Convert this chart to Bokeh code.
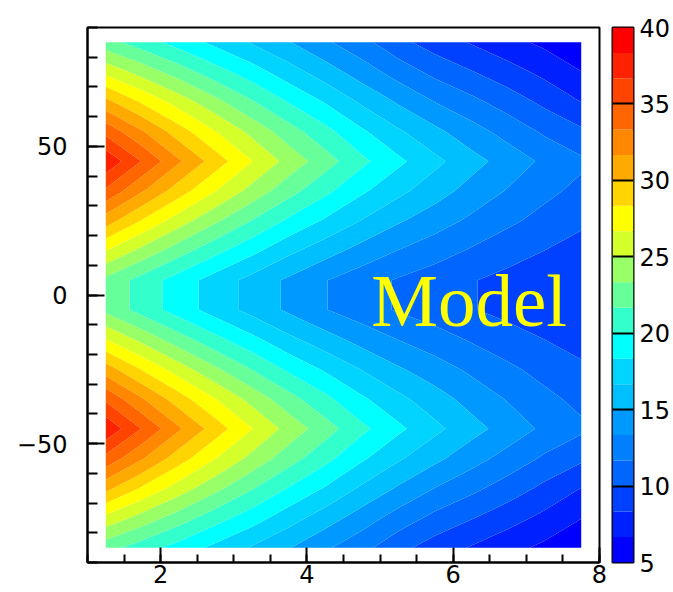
import numpy as np
from bokeh.plotting import figure
from bokeh.layouts import row
from bokeh.models import SingleIntervalTicker, FixedTicker, Range1d
from bokeh.core.properties import value
from bokeh.embed import file_html
from bokeh.resources import INLINE

# ---- data (bin centres and values) ----
x_bins = [1.25, 1.75, 2.25, 2.75, 3.25, 3.75, 4.25, 4.75, 5.25, 5.75, 6.25, 6.75, 7.25, 7.75]
y_bins = [85, 75, 65, 55, 45, 35, 25, 15, 5, -5, -15, -25, -35, -45, -55, -65, -75, -85]

z_y85 = [22.3, 20.8, 19.3, 17.9, 16.5, 15.1, 13.6, 12.2, 10.5, 9.2, 8.2, 7.2, 6.3, 5.5]
z_y75 = [26.2, 24.3, 22.5, 20.7, 19.1, 17.4, 15.8, 14.2, 12.6, 11.2, 10.1, 9.0, 7.9, 6.7]
z_y65 = [30.5, 28.1, 25.9, 23.8, 21.8, 19.9, 18.2, 16.4, 14.8, 13.3, 12.1, 10.9, 9.6, 8.3]
z_y55 = [34.5, 31.8, 29.1, 26.7, 24.5, 22.4, 20.5, 18.6, 16.9, 15.4, 14.0, 12.7, 11.4, 10.3]
z_y45 = [38.0, 34.9, 31.9, 29.2, 26.7, 24.4, 22.4, 20.4, 18.7, 17.1, 15.6, 14.3, 13.0, 12.0]
z_y35 = [34.7, 31.8, 29.1, 26.7, 24.4, 22.3, 20.4, 18.6, 17.1, 15.7, 14.4, 13.2, 12.1, 11.2]
z_y25 = [30.8, 28.2, 25.8, 23.6, 21.6, 19.7, 18.1, 16.6, 15.2, 14.1, 13.0, 12.0, 11.1, 10.3]
z_y15 = [26.7, 24.5, 22.4, 20.5, 18.8, 17.1, 15.7, 14.4, 13.3, 12.4, 11.5, 10.7, 10.0, 9.4]
z_y05 = [22.9, 21.0, 19.2, 17.6, 16.1, 14.7, 13.4, 12.4, 11.5, 10.8, 10.1, 9.5, 9.0, 8.5]
z_ym05 = [22.9, 21.0, 19.2, 17.6, 16.1, 14.7, 13.4, 12.4, 11.5, 10.8, 10.1, 9.5, 9.0, 8.5]
z_ym15 = [26.7, 24.5, 22.4, 20.5, 18.8, 17.1, 15.7, 14.4, 13.3, 12.4, 11.5, 10.7, 10.0, 9.4]
z_ym25 = [30.8, 28.2, 25.8, 23.6, 21.6, 19.7, 18.1, 16.6, 15.2, 14.1, 13.0, 12.0, 11.1, 10.3]
z_ym35 = [34.7, 31.8, 29.1, 26.7, 24.4, 22.3, 20.4, 18.6, 17.1, 15.7, 14.4, 13.2, 12.1, 11.2]
z_ym45 = [38.0, 34.9, 31.9, 29.2, 26.7, 24.4, 22.4, 20.4, 18.7, 17.1, 15.6, 14.3, 13.0, 12.0]
z_ym55 = [34.5, 31.8, 29.1, 26.7, 24.5, 22.4, 20.5, 18.6, 16.9, 15.4, 14.0, 12.7, 11.4, 10.3]
z_ym65 = [30.5, 28.1, 25.9, 23.8, 21.8, 19.9, 18.2, 16.4, 14.8, 13.3, 12.1, 10.9, 9.6, 8.3]
z_ym75 = [26.2, 24.3, 22.5, 20.7, 19.1, 17.4, 15.8, 14.2, 12.6, 11.2, 10.1, 9.0, 7.9, 6.7]
z_ym85 = [22.3, 20.8, 19.3, 17.9, 16.5, 15.1, 13.6, 12.2, 10.5, 9.2, 8.2, 7.2, 6.3, 5.5]

z_table = [z_y85, z_y75, z_y65, z_y55, z_y45, z_y35, z_y25, z_y15, z_y05,
           z_ym05, z_ym15, z_ym25, z_ym35, z_ym45, z_ym55, z_ym65, z_ym75, z_ym85]

z_min, z_max, n_bands = 5, 40, 21
cbar_ticks = [5, 10, 15, 20, 25, 30, 35, 40]
cbar_lines = [10, 15, 20, 25, 30, 35]
y_tick_labels = {-50: "\u221250", 0: "0", 50: "50"}
model_text = ["Model"]
model_x = [4.88]
model_y = [-1.7]

# ---- style ----
palette = ["#0000ff", "#0020ff", "#0040ff", "#0066ff", "#0080ff", "#0099ff",
           "#00bfff", "#00d4ff", "#00ffff", "#33ffcc", "#66ff99", "#99ff66",
           "#d4ff2b", "#ffff00", "#ffd400", "#ffaa00", "#ff8800", "#ff6600",
           "#ff4400", "#ff2200", "#ff0000"]
FONT = "DejaVu Sans"
LBL = "24px"

levels = list(np.linspace(z_min, z_max, n_bands + 1))
y_asc = y_bins[::-1]
z_asc = np.array(z_table, dtype=float)[::-1]

p = figure(width=608, height=592, x_range=Range1d(1, 8), y_range=Range1d(-90, 90),
           output_backend="svg", toolbar_location=None,
           min_border_left=87, min_border_right=9, min_border_top=27, min_border_bottom=30)
p.grid.visible = False
p.outline_line_color = "black"
p.outline_line_width = 2
p.background_fill_color = "white"
p.border_fill_color = "white"

p.contour(x_bins, y_asc, z_asc, levels, fill_color=palette)

p.text(x=model_x, y=model_y, text=model_text, text_font=value("Liberation Serif"),
       text_font_size="75px", text_color="#ffff00", text_baseline="alphabetic", text_align="left")

p.xaxis.ticker = SingleIntervalTicker(interval=2, num_minor_ticks=4)
p.yaxis.ticker = SingleIntervalTicker(interval=50, num_minor_ticks=5)
p.yaxis.major_label_overrides = y_tick_labels
for ax in (p.xaxis[0], p.yaxis[0]):
    ax.axis_line_color = "black"
    ax.axis_line_width = 2
    ax.major_tick_line_color = "black"
    ax.minor_tick_line_color = "black"
    ax.major_tick_line_width = 2
    ax.minor_tick_line_width = 2
    ax.major_tick_out = 0
    ax.minor_tick_out = 0
    ax.major_label_text_font = FONT
    ax.major_label_text_font_size = LBL
    ax.major_label_text_color = "black"
p.xaxis.major_tick_in = 15
p.xaxis.minor_tick_in = 8
p.yaxis.major_tick_in = 17
p.yaxis.minor_tick_in = 10
p.xaxis.major_label_standoff = 2
p.yaxis.major_label_standoff = 20

# ---- colour bar ----
p2 = figure(width=65, height=592, x_range=Range1d(0, 1), y_range=Range1d(z_min, z_max),
            output_backend="svg", toolbar_location=None,
            x_axis_location=None, y_axis_location="right",
            min_border_left=4, min_border_right=37, min_border_top=27, min_border_bottom=30)
p2.grid.visible = False
p2.outline_line_color = "black"
p2.outline_line_width = 2
p2.border_fill_color = "white"
p2.quad(left=0, right=1, bottom=levels[:-1], top=levels[1:], fill_color=palette, line_color=None)
p2.hspan(y=cbar_lines, line_color="black", line_width=2)
ax2 = p2.yaxis[0]
ax2.ticker = FixedTicker(ticks=cbar_ticks, minor_ticks=[])
ax2.axis_line_color = None
ax2.major_tick_line_color = None
ax2.minor_tick_line_color = None
ax2.major_tick_in = 0
ax2.major_tick_out = 0
ax2.major_label_standoff = 6
ax2.major_label_text_font = FONT
ax2.major_label_text_font_size = LBL
ax2.major_label_text_color = "black"

layout = row(p, p2)
open("out.html", "w").write(file_html(layout, INLINE))
